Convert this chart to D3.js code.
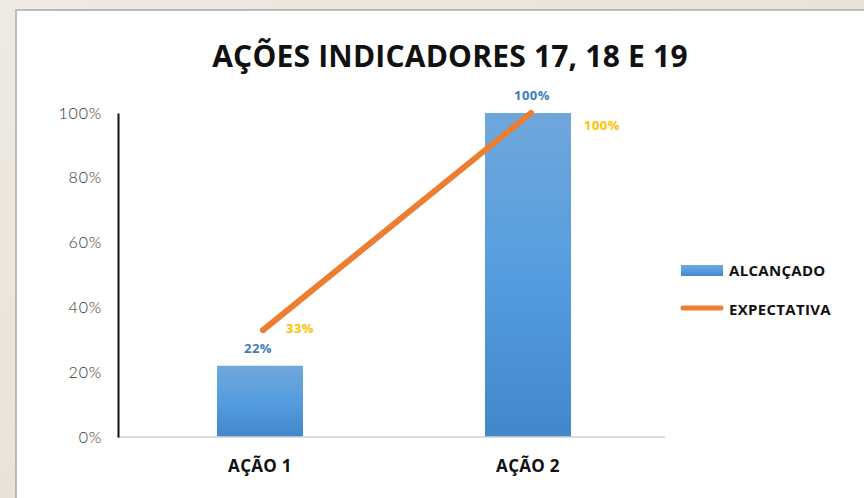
<!DOCTYPE html>
<meta charset="utf-8">
<style>
    body { margin: 0; background: #ece6dc; }
    svg { display: block; }
    .tick text { font-family: Lato, sans-serif; font-weight: 300; font-size: 16px; letter-spacing: 0.8px; fill: #333; }
</style>
<svg width="864" height="498"></svg>
<script src="https://d3js.org/d3.v7.min.js"></script>
<script>

    var categories = ["AÇÃO 1", "AÇÃO 2"];
    var alcancado = [0.22, 1.0];
    var expectativa = [0.33, 1.0];
    var yTicks = [0, 0.2, 0.4, 0.6, 0.8, 1.0];

    var svg = d3.select("svg");

    var defs = svg.append("defs");
    var grad = defs.append("linearGradient")
        .attr("id", "barGrad")
        .attr("x1", 0).attr("y1", 0).attr("x2", 0).attr("y2", 1);
    grad.append("stop").attr("offset", "0%").attr("stop-color", "#6fa7dc");
    grad.append("stop").attr("offset", "50%").attr("stop-color", "#559ddf");
    grad.append("stop").attr("offset", "100%").attr("stop-color", "#4287c9");

    var bg = defs.append("linearGradient")
        .attr("id", "bgGrad")
        .attr("x1", 0).attr("y1", 0).attr("x2", 1).attr("y2", 1);
    bg.append("stop").attr("offset", "0%").attr("stop-color", "#efeae2");
    bg.append("stop").attr("offset", "50%").attr("stop-color", "#e9e3d8");
    bg.append("stop").attr("offset", "100%").attr("stop-color", "#f0ebe3");

    // backdrop + white panel
    svg.append("rect").attr("width", 864).attr("height", 498).attr("fill", "url(#bgGrad)");
    svg.append("rect")
        .attr("x", 16).attr("y", 10)
        .attr("width", 860).attr("height", 500)
        .attr("fill", "#fff")
        .attr("stroke", "#a9a9a9")
        .attr("stroke-width", 1.5);

    var x = d3.scalePoint()
        .domain(categories)
        .range([126, 662])
        .padding(0.5);

    var y = d3.scaleLinear()
        .domain([0, 1])
        .range([437, 113]);

    var barW = 86;

    // title
    svg.append("text")
        .attr("x", 450).attr("y", 67)
        .attr("text-anchor", "middle")
        .style("font-family", "'Open Sans', sans-serif")
        .style("font-weight", 700)
        .style("font-size", "30px")
        .style("letter-spacing", "0.2px")
        .attr("fill", "#111")
        .text("AÇÕES INDICADORES 17, 18 E 19");

    // bars
    svg.append("g").selectAll("rect")
        .data(alcancado)
        .enter()
        .append("rect")
        .attr("x", function (d, i) { return x(categories[i]) - barW / 2; })
        .attr("y", function (d) { return y(d); })
        .attr("width", barW)
        .attr("height", function (d) { return y(0) - y(d); })
        .attr("fill", "url(#barGrad)");

    // x baseline
    svg.append("line")
        .attr("x1", 118).attr("x2", 665)
        .attr("y1", y(0)).attr("y2", y(0))
        .attr("stroke", "#d0d0d0").attr("stroke-width", 1.5);

    // y axis
    var yAxis = svg.append("g")
        .attr("transform", "translate(118,0)")
        .call(d3.axisLeft(y).tickValues(yTicks).tickFormat(d3.format(".0%")).tickSize(0).tickPadding(16));
    yAxis.select(".domain").attr("stroke", "#111").attr("stroke-width", 2);

    // category labels
    svg.append("g").selectAll("text")
        .data(categories)
        .enter()
        .append("text")
        .attr("x", function (d) { return x(d); })
        .attr("y", 472)
        .attr("text-anchor", "middle")
        .style("font-family", "'Open Sans', sans-serif")
        .style("font-weight", 700)
        .style("font-size", "17px")
        .style("letter-spacing", "0.3px")
        .attr("fill", "#111")
        .text(function (d) { return d; });

    // expectation line
    var line = d3.line()
        .x(function (d, i) { return x(categories[i]) + 3; })
        .y(function (d) { return y(d); });

    svg.append("path")
        .datum(expectativa)
        .attr("d", line)
        .attr("fill", "none")
        .attr("stroke", "#ed7d31")
        .attr("stroke-width", 6)
        .attr("stroke-linecap", "round");

    var fmt = d3.format(".0%");

    // data labels
    svg.append("g").selectAll("text")
        .data(alcancado)
        .enter()
        .append("text")
        .attr("x", function (d, i) { return x(categories[i]) - (i == 0 ? 2 : -4); })
        .attr("y", function (d) { return y(d) - 13; })
        .attr("text-anchor", "middle")
        .style("font-family", "'Open Sans', sans-serif")
        .style("font-weight", 700)
        .style("font-size", "13px")
        .style("letter-spacing", "0.5px")
        .attr("fill", "#3d7cc0")
        .text(function (d) { return fmt(d); });

    svg.append("g").selectAll("text")
        .data(expectativa)
        .enter()
        .append("text")
        .attr("x", function (d, i) { return x(categories[i]) + (i == 0 ? 40 : 74); })
        .attr("y", function (d, i) { return y(d) + (i == 0 ? 3 : 17); })
        .attr("text-anchor", "middle")
        .style("font-family", "'Open Sans', sans-serif")
        .style("font-weight", 700)
        .style("font-size", "13px")
        .style("letter-spacing", "0.5px")
        .attr("fill", "#ffc000")
        .text(function (d) { return fmt(d); });

    // legend
    var legend = svg.append("g").attr("transform", "translate(681,0)");
    legend.append("rect")
        .attr("x", 0).attr("y", 265)
        .attr("width", 42).attr("height", 11)
        .attr("fill", "url(#barGrad)");
    legend.append("line")
        .attr("x1", 2).attr("x2", 40)
        .attr("y1", 308).attr("y2", 308)
        .attr("stroke", "#ed7d31").attr("stroke-width", 5)
        .attr("stroke-linecap", "round");
    legend.selectAll("text")
        .data(["ALCANÇADO", "EXPECTATIVA"])
        .enter()
        .append("text")
        .attr("x", 48)
        .attr("y", function (d, i) { return 276 + i * 39; })
        .style("font-family", "'Open Sans', sans-serif")
        .style("font-weight", 700)
        .style("font-size", "15px")
        .style("letter-spacing", "0.3px")
        .attr("fill", "#111")
        .text(function (d) { return d; });

</script>
